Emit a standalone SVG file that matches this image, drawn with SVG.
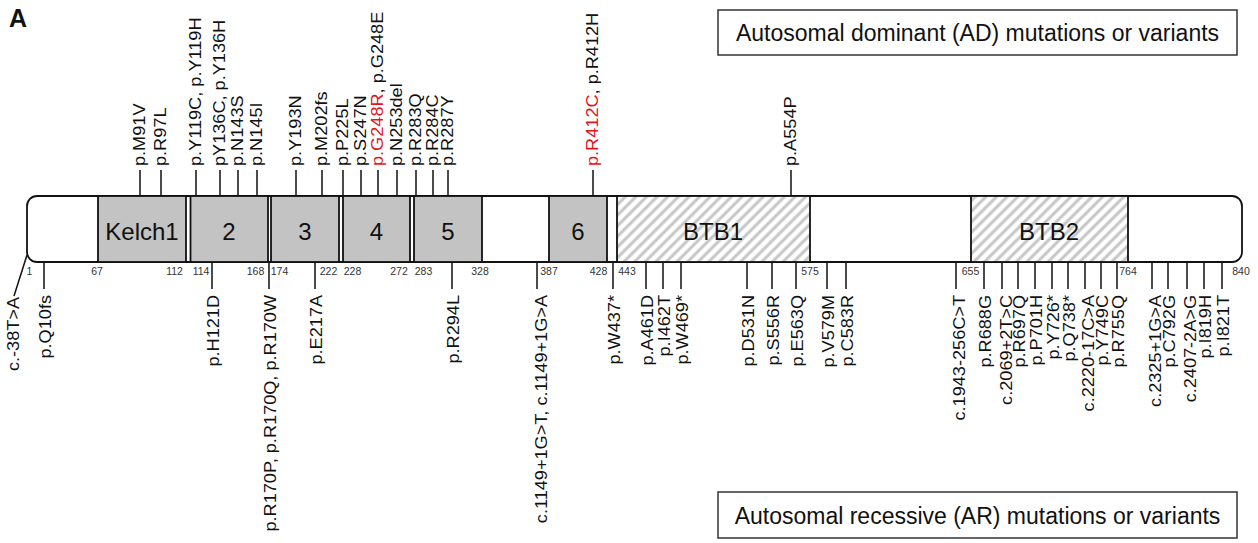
<svg xmlns="http://www.w3.org/2000/svg" width="1258" height="543" viewBox="0 0 1258 543">
<style>
text{font-family:"Liberation Sans",Arial,Helvetica,sans-serif;fill:#111}
.lbl{font-size:16.5px}
.top{text-anchor:start}
.bot{text-anchor:end}
.num{font-size:10.5px;fill:#333;text-anchor:middle}
.dom{font-size:24px;text-anchor:middle}
.leg{font-size:23px;text-anchor:middle}
.red{fill:#e3141b}
.tick{stroke:#111;stroke-width:1.5;fill:none}
.box{stroke:#111;stroke-width:1.8}
.kelch{fill:#c3c3c3}
.legbox{fill:#fff;stroke:#333;stroke-width:1.5}
.panel{font-size:25px;font-weight:bold}
</style>
<defs>
<pattern id="hatch" patternUnits="userSpaceOnUse" width="7.5" height="7.5" patternTransform="rotate(45)">
<rect width="7.5" height="7.5" fill="#fff"/>
<line x1="3.75" y1="0" x2="3.75" y2="7.5" stroke="#c6c6c6" stroke-width="3"/>
</pattern>
</defs>
<rect width="1258" height="543" fill="#fff"/>
<text class="panel" x="9" y="27">A</text>

<g id="legend-ad"><rect class="legbox" x="718" y="10" width="519" height="45"/><text class="leg" x="977.5" y="41">Autosomal dominant (AD) mutations or variants</text></g>
<g id="legend-ar"><rect class="legbox" x="718" y="492" width="519" height="46"/><text class="leg" x="977.5" y="524">Autosomal recessive (AR) mutations or variants</text></g>

<g id="connectors" class="tick">
<path d="M140 170V196M161 170V196M196 170V196M220 170V196M238 170V196M257 170V196M296 170V196M322 170V196M343 170V196M361 170V196M378 170V196M397 170V196M416 170V196M433 170V196M448 170V196M593 170V196M791 170V196"/>
<path d="M27 255L14 296M44 262V289M212 262V289M269 262V289M315 262V289M452 262V289M537 262V289M613 262V289M646 262V289M663 262V289M681 262V289M747 262V289M772 262V289M796 262V289M827 262V289M846 262V289M956 262V289M984 262V289M1002 262V289M1018 262V289M1035 262V289M1052 262V289M1068 262V289M1085 262V289M1101 262V289M1117 262V289M1152 262V289M1168 262V289M1187 262V289M1204 262V289M1222 262V289"/>
</g>

<g id="protein">
<rect class="box" x="27" y="196" width="1215" height="66" rx="10" fill="#fff"/>
<g id="kelch1"><rect class="box kelch" x="98" y="196" width="88" height="66"/><text class="dom" x="142" y="239.5">Kelch1</text></g>
<g id="kelch2"><rect class="box kelch" x="190.5" y="196" width="77.5" height="66"/><text class="dom" x="229" y="239.5">2</text></g>
<g id="kelch3"><rect class="box kelch" x="271" y="196" width="68" height="66"/><text class="dom" x="305" y="239.5">3</text></g>
<g id="kelch4"><rect class="box kelch" x="343" y="196" width="67" height="66"/><text class="dom" x="376.5" y="239.5">4</text></g>
<g id="kelch5"><rect class="box kelch" x="414" y="196" width="68" height="66"/><text class="dom" x="448" y="239.5">5</text></g>
<g id="kelch6"><rect class="box kelch" x="549" y="196" width="58" height="66"/><text class="dom" x="578" y="239.5">6</text></g>
<g id="btb1"><rect class="box" x="617" y="196" width="193" height="66" fill="url(#hatch)"/><text class="dom" x="713" y="239.5">BTB1</text></g>
<g id="btb2"><rect class="box" x="971" y="196" width="157" height="66" fill="url(#hatch)"/><text class="dom" x="1049" y="239.5">BTB2</text></g>
</g>

<g id="positions">
<text class="num" x="29.5" y="275">1</text>
<text class="num" x="97" y="275">67</text>
<text class="num" x="174.5" y="275">112</text>
<text class="num" x="201" y="275">114</text>
<text class="num" x="255.5" y="275">168</text>
<text class="num" x="279.5" y="275">174</text>
<text class="num" x="328.5" y="275">222</text>
<text class="num" x="352.5" y="275">228</text>
<text class="num" x="399" y="275">272</text>
<text class="num" x="423.5" y="275">283</text>
<text class="num" x="480" y="275">328</text>
<text class="num" x="549" y="275">387</text>
<text class="num" x="598.5" y="275">428</text>
<text class="num" x="627" y="275">443</text>
<text class="num" x="810" y="275">575</text>
<text class="num" x="970.5" y="275">655</text>
<text class="num" x="1128" y="275">764</text>
<text class="num" x="1241" y="275">840</text>
</g>

<g id="ad-variants" class="lbl top">
<text transform="translate(145,166) rotate(-90) scale(1.1,1)">p.M91V</text>
<text transform="translate(166,166) rotate(-90) scale(1.1,1)">p.R97L</text>
<text transform="translate(201,166) rotate(-90) scale(1.1,1)">p.Y119C, p.Y119H</text>
<text transform="translate(225,166) rotate(-90) scale(1.1,1)">pY136C, p.Y136H</text>
<text transform="translate(243,166) rotate(-90) scale(1.1,1)">p.N143S</text>
<text transform="translate(262,166) rotate(-90) scale(1.1,1)">p.N145I</text>
<text transform="translate(301,166) rotate(-90) scale(1.1,1)">p.Y193N</text>
<text transform="translate(327,166) rotate(-90) scale(1.1,1)">p.M202fs</text>
<text transform="translate(348,166) rotate(-90) scale(1.1,1)">p.P225L</text>
<text transform="translate(366,166) rotate(-90) scale(1.1,1)">p.S247N</text>
<text transform="translate(383,166) rotate(-90) scale(1.1,1)"><tspan class="red">p.G248R</tspan>, p.G248E</text>
<text transform="translate(402,166) rotate(-90) scale(1.1,1)">p.N253del</text>
<text transform="translate(421,166) rotate(-90) scale(1.1,1)">p.R283Q</text>
<text transform="translate(438,166) rotate(-90) scale(1.1,1)">p.R284C</text>
<text transform="translate(453,166) rotate(-90) scale(1.1,1)">p.R287Y</text>
<text transform="translate(598,166) rotate(-90) scale(1.1,1)"><tspan class="red">p.R412C</tspan>, p.R412H</text>
<text transform="translate(796,166) rotate(-90) scale(1.1,1)">p.A554P</text>
</g>

<g id="ar-variants" class="lbl bot">
<text transform="translate(19,297) rotate(-90) scale(1.1,1)">c.-38T&gt;A</text>
<text transform="translate(50.5,295) rotate(-90) scale(1.1,1)">p.Q10fs</text>
<text transform="translate(218.5,295) rotate(-90) scale(1.1,1)">p.H121D</text>
<text transform="translate(275.5,295) rotate(-90) scale(1.1,1)">p.R170P, p.R170Q, p.R170W</text>
<text transform="translate(321.5,295) rotate(-90) scale(1.1,1)">p.E217A</text>
<text transform="translate(458.5,295) rotate(-90) scale(1.1,1)">p.R294L</text>
<text transform="translate(546.5,295) rotate(-90) scale(1.1,1)">c.1149+1G&gt;T, c.1149+1G&gt;A</text>
<text transform="translate(619.5,295) rotate(-90) scale(1.1,1)">p.W437*</text>
<text transform="translate(652.5,295) rotate(-90) scale(1.1,1)">p.A461D</text>
<text transform="translate(669.5,295) rotate(-90) scale(1.1,1)">p.I462T</text>
<text transform="translate(687.5,295) rotate(-90) scale(1.1,1)">p.W469*</text>
<text transform="translate(753.5,295) rotate(-90) scale(1.1,1)">p.D531N</text>
<text transform="translate(778.5,295) rotate(-90) scale(1.1,1)">p.S556R</text>
<text transform="translate(802.5,295) rotate(-90) scale(1.1,1)">p.E563Q</text>
<text transform="translate(833.5,295) rotate(-90) scale(1.1,1)">p.V579M</text>
<text transform="translate(852.5,295) rotate(-90) scale(1.1,1)">p.C583R</text>
<text transform="translate(965,295) rotate(-90) scale(1.1,1)">c.1943-256C&gt;T</text>
<text transform="translate(990.5,295) rotate(-90) scale(1.1,1)">p.R688G</text>
<text transform="translate(1011.5,295) rotate(-90) scale(1.1,1)">c.2069+2T&gt;C</text>
<text transform="translate(1024.5,295) rotate(-90) scale(1.1,1)">p.R697Q</text>
<text transform="translate(1041.5,295) rotate(-90) scale(1.1,1)">p.P701H</text>
<text transform="translate(1058.5,295) rotate(-90) scale(1.1,1)">p.Y726*</text>
<text transform="translate(1074.5,295) rotate(-90) scale(1.1,1)">p.Q738*</text>
<text transform="translate(1094,295) rotate(-90) scale(1.1,1)">c.2220-17C&gt;A</text>
<text transform="translate(1107.5,295) rotate(-90) scale(1.1,1)">p.Y749C</text>
<text transform="translate(1123.5,295) rotate(-90) scale(1.1,1)">p.R755Q</text>
<text transform="translate(1161,295) rotate(-90) scale(1.1,1)">c.2325+1G&gt;A</text>
<text transform="translate(1174.5,295) rotate(-90) scale(1.1,1)">p.C792G</text>
<text transform="translate(1196,295) rotate(-90) scale(1.1,1)">c.2407-2A&gt;G</text>
<text transform="translate(1210.5,295) rotate(-90) scale(1.1,1)">p.I819H</text>
<text transform="translate(1228.5,295) rotate(-90) scale(1.1,1)">p.I821T</text>
</g>
</svg>
